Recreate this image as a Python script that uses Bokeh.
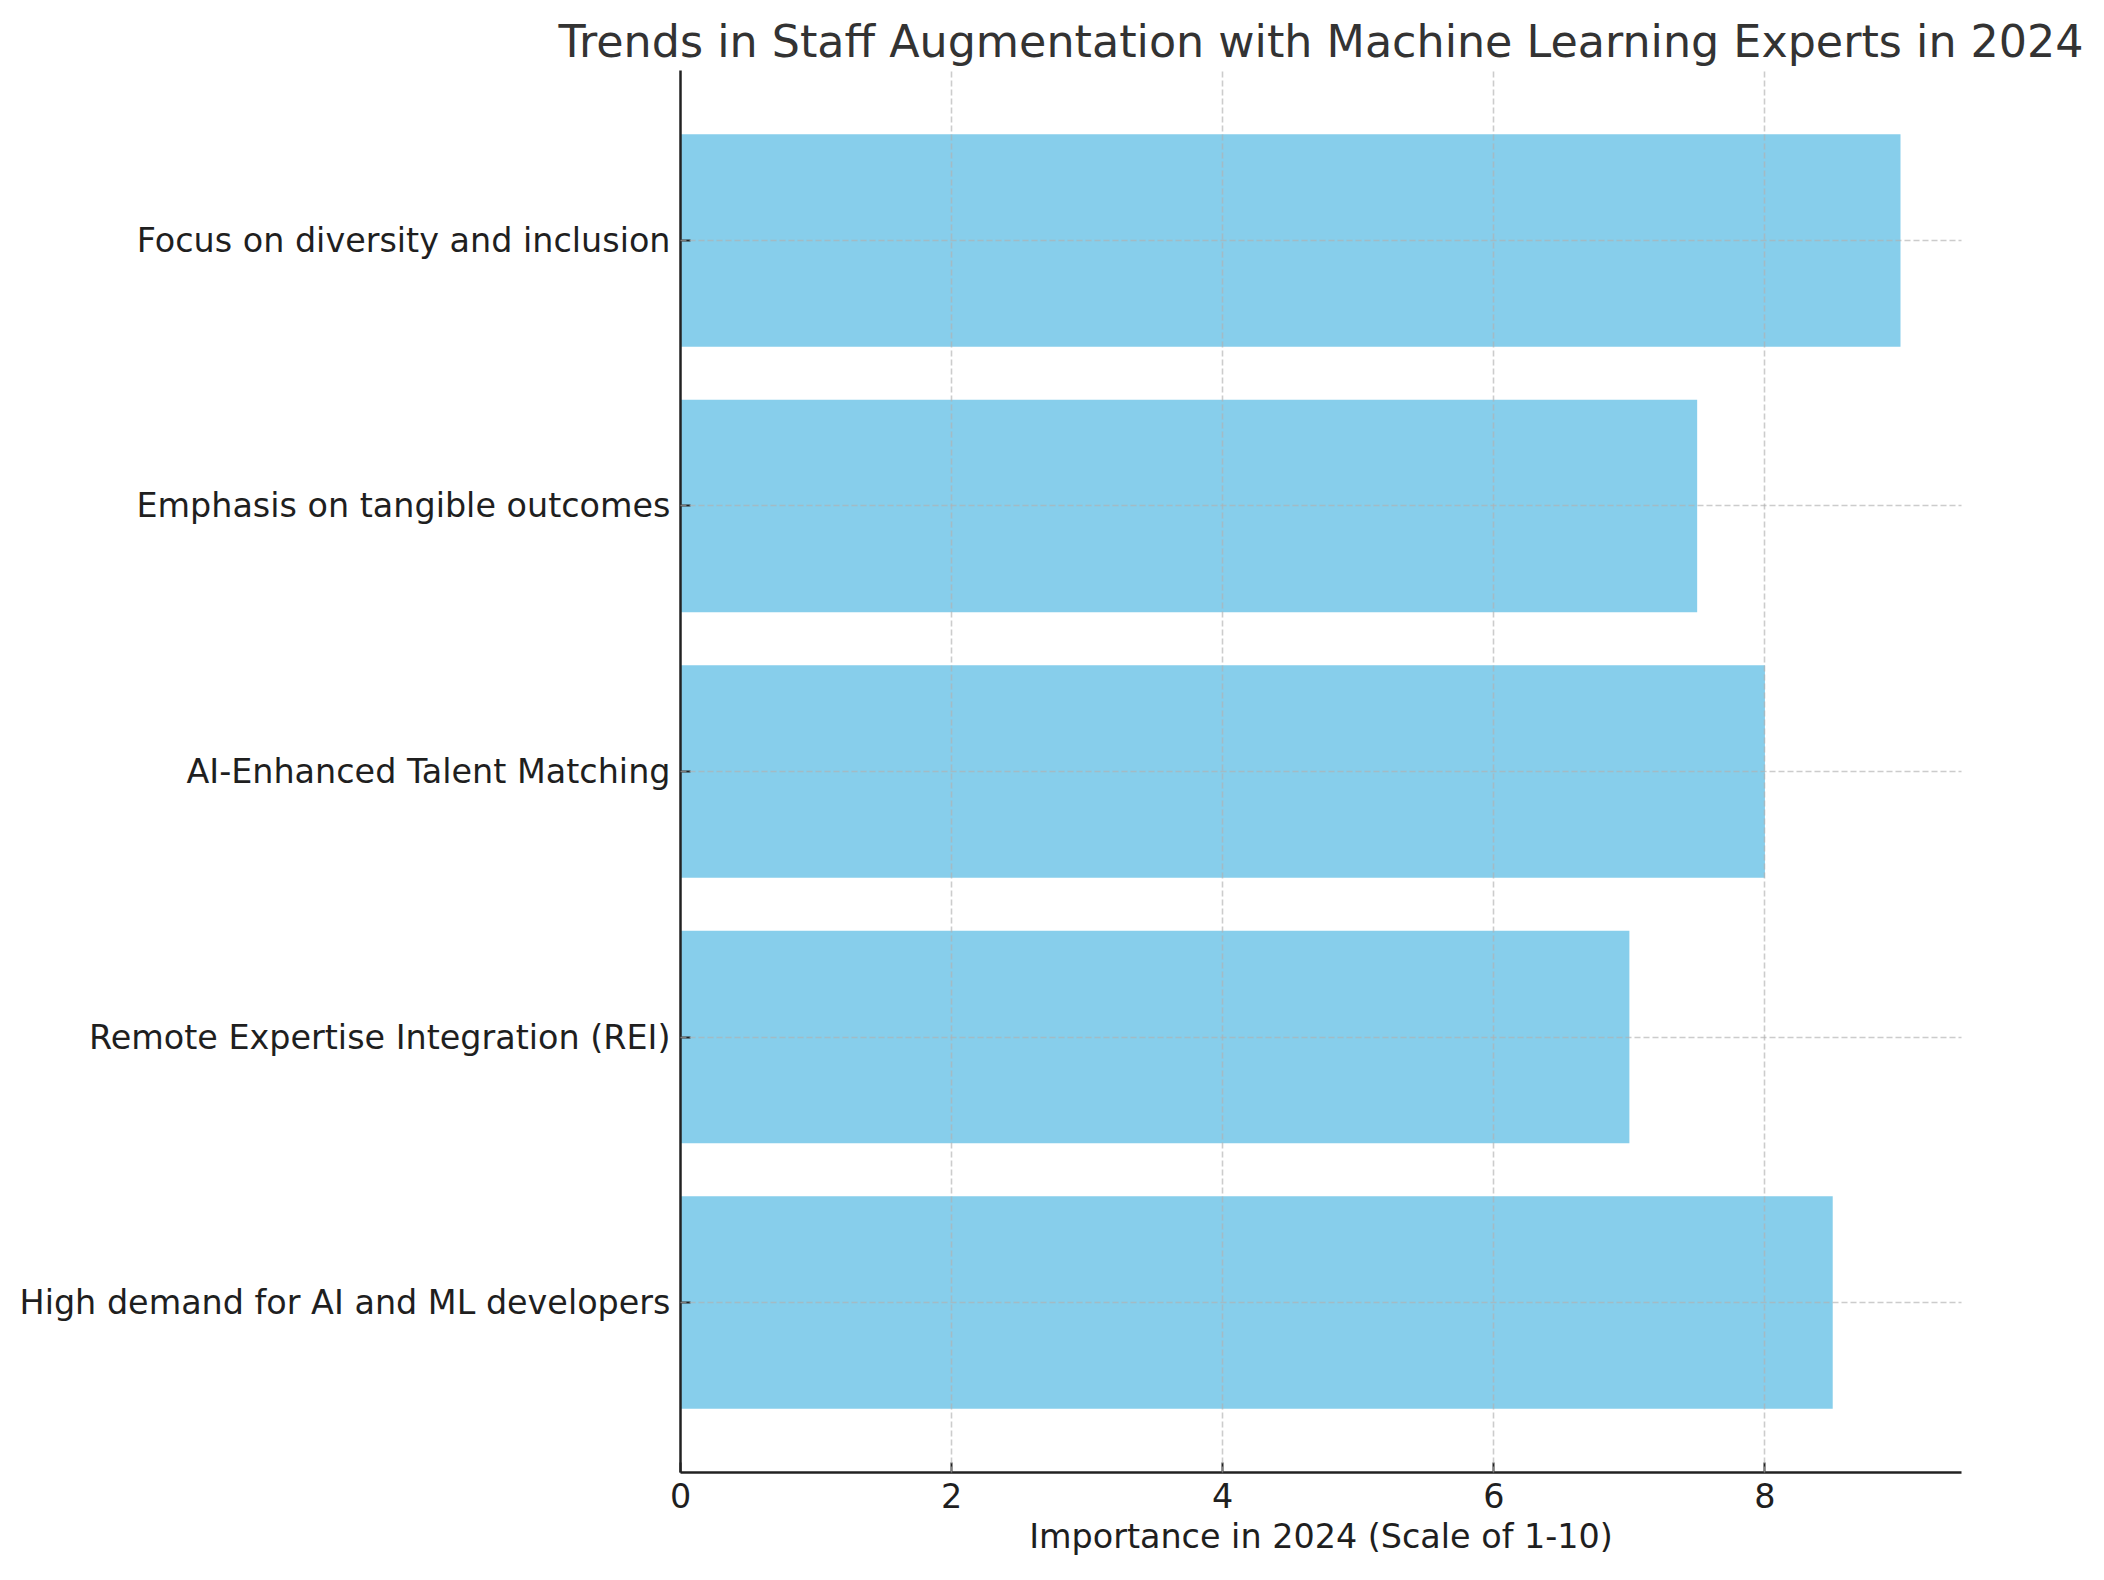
from bokeh.plotting import figure
from bokeh.models import FactorRange, Range1d, FixedTicker, Title, ColumnDataSource
from bokeh.embed import file_html
from bokeh.resources import INLINE

# Data (bottom to top, as drawn)
categories = [
    "High demand for AI and ML developers",
    "Remote Expertise Integration (REI)",
    "AI-Enhanced Talent Matching",
    "Emphasis on tangible outcomes",
    "Focus on diversity and inclusion",
]
importance = [8.5, 7.0, 8.0, 7.5, 9.0]
x_ticks = [0, 2, 4, 6, 8]

title_text = "Trends in Staff Augmentation with Machine Learning Experts in 2024"
x_label = "Importance in 2024 (Scale of 1-10)"

FONT = "DejaVu Sans"
TXT = "#1f1f1f"

source = ColumnDataSource(data=dict(cat=categories, val=importance))

p = figure(
    width=2096, height=1575,
    y_range=FactorRange(factors=categories, range_padding=0.14, range_padding_units="absolute"),
    x_range=Range1d(0, max(importance) * 1.05),
    output_backend="svg", toolbar_location=None,
    min_border_left=680, min_border_right=135, min_border_top=70, min_border_bottom=103,
)
p.title = None
p.add_layout(Title(text=title_text, align="center", text_font=FONT, text_font_size="44.4px",
                   text_font_style="normal", text_color="#333333", standoff=7), "above")

p.hbar(y="cat", right="val", left=0, height=0.8, source=source,
       fill_color="#87ceeb", line_color=None)

p.outline_line_color = None
p.background_fill_color = "white"
p.border_fill_color = "white"

for g in (p.xgrid, p.ygrid):
    g.level = "overlay"
    g.grid_line_color = "#b0b0b0"
    g.grid_line_alpha = 0.65
    g.grid_line_width = 1.6
    g.grid_line_dash = "6 3"

p.xaxis.ticker = FixedTicker(ticks=x_ticks)
p.xaxis.axis_label = x_label

for ax in (p.xaxis[0], p.yaxis[0]):
    ax.axis_line_color = "#222222"
    ax.axis_line_width = 2.5
    ax.major_tick_line_color = "#222222"
    ax.major_tick_line_width = 2
    ax.major_tick_in = 10
    ax.major_tick_out = 0
    ax.minor_tick_line_color = None
    ax.major_label_text_font = FONT
    ax.major_label_text_font_size = "33.4px"
    ax.major_label_text_color = TXT
    ax.axis_label_text_font = FONT
    ax.axis_label_text_font_size = "33.4px"
    ax.axis_label_text_font_style = "normal"
    ax.axis_label_text_color = TXT

p.yaxis.major_label_standoff = 10
p.xaxis.major_label_standoff = 10
p.xaxis.axis_label_standoff = 6

open("out.html", "w").write(file_html(p, INLINE))
